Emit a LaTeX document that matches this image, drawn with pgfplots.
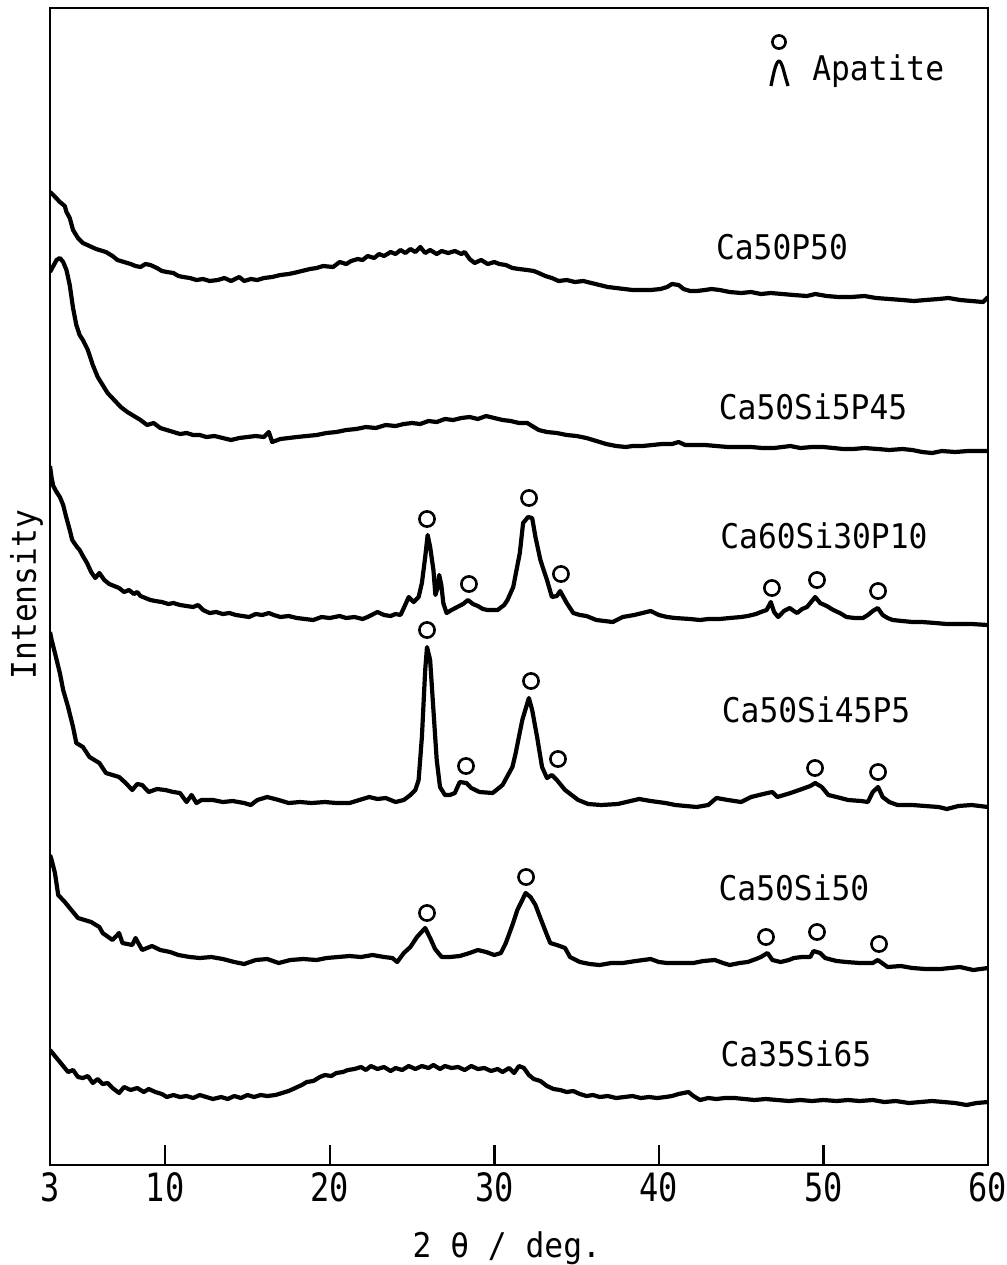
\documentclass[border=0pt]{standalone}
\usepackage{fontspec}
\setmainfont{DejaVu Sans Mono}[FakeStretch=0.92]
\newfontfamily\tickfamily{DejaVu Sans Mono}[FakeStretch=0.82]
\usepackage{pgfplots}
\pgfplotsset{compat=1.18}
\newcommand{\lab}{\fontsize{17}{20}\selectfont}
\newcommand{\tlab}{\tickfamily\fontsize{19.5}{22}\selectfont}
\begin{document}
\begin{tikzpicture}
\begin{axis}[name=ax, scale only axis, width=469pt, height=578.5pt,
  xmin=3, xmax=60, ymin=8, ymax=1165, y dir=reverse,
  xtick={3,10,20,30,40,50,60}, ytick=\empty, xtick pos=left,
  tick align=inside, major tick length=10pt,
  axis line style={line width=1.25pt},
  tick style={line width=1.2pt, black},
  /pgf/number format/assume math mode=true,
  ticklabel style={font=\tlab},
  xlabel={2 θ / deg.}, xlabel style={font=\lab, at={(axis description cs:0.487,0)}, anchor=north, yshift=-30pt},
  ylabel={Intensity}, ylabel style={font=\lab, at={(axis description cs:-0.007,0.493)}, anchor=south, inner sep=0pt},
  cycle list={{black, mark=none}},
  every axis plot/.append style={line width=2.1pt, line join=round},
]
% Ca50P50
\addplot coordinates {(3.0,192)(3.2,195)(3.6,202)(3.9,206)(4.0,212)(4.2,218)(4.4,230)(4.7,238)(5.0,243)(5.4,246)(5.8,249)(6.0,250)(6.4,252)(6.8,256)(7.1,260)(7.5,262)(7.9,264)(8.2,266)(8.5,267)(8.8,264)(9.1,265)(9.5,268)(9.8,271)(10.1,272)(10.5,273)(10.8,276)(11.1,277)(11.5,278)(11.9,280)(12.3,279)(12.7,281)(13.2,280)(13.6,278)(14.0,281)(14.5,277)(14.8,281)(15.2,279)(15.6,280)(16.0,278)(16.5,277)(17.0,275)(17.5,274)(17.8,273)(18.3,271)(18.8,269)(19.2,268)(19.6,266)(20.2,267)(20.6,262)(21.0,264)(21.3,261)(21.7,259)(22.0,260)(22.3,256)(22.7,258)(23.0,254)(23.3,256)(23.7,252)(24.0,254)(24.3,250)(24.6,253)(24.9,249)(25.2,252)(25.5,247)(25.8,253)(26.1,250)(26.5,254)(26.8,251)(27.2,253)(27.6,251)(28.0,254)(28.2,252)(28.5,259)(28.8,263)(29.2,260)(29.6,264)(30.0,262)(30.3,264)(30.7,265)(31.1,268)(31.5,269)(32.0,270)(32.4,271)(32.7,273)(33.1,276)(33.5,278)(33.9,281)(34.4,280)(34.9,282)(35.4,281)(35.9,283)(36.4,285)(36.9,287)(37.4,288)(37.9,289)(38.4,290)(39.0,290)(39.5,290)(40.1,289)(40.5,287)(40.8,284)(41.2,285)(41.5,289)(41.9,291)(42.3,291)(42.8,290)(43.2,289)(43.7,290)(44.3,292)(45.0,293)(45.6,292)(46.2,294)(46.8,293)(47.5,294)(48.2,295)(49.0,296)(49.5,294)(50.2,296)(50.9,297)(51.7,297)(52.5,296)(53.2,298)(54.0,299)(54.8,300)(55.5,301)(56.2,300)(57.0,299)(57.6,298)(58.3,300)(59.0,301)(59.7,302)(60.0,297)};
% Ca50Si5P45
\addplot coordinates {(3.0,272)(3.2,266)(3.4,260)(3.6,258)(3.8,262)(4.0,270)(4.2,285)(4.4,308)(4.6,325)(4.8,335)(5.0,340)(5.3,350)(5.6,365)(5.9,377)(6.2,385)(6.5,393)(6.9,400)(7.3,407)(7.7,412)(8.1,416)(8.5,420)(8.9,425)(9.3,423)(9.7,428)(10.1,430)(10.5,432)(10.9,434)(11.3,433)(11.7,435)(12.1,435)(12.5,437)(13.0,436)(13.5,438)(14.0,440)(14.5,438)(15.0,437)(15.5,436)(16.0,437)(16.3,432)(16.5,442)(17.0,439)(17.5,438)(18.0,437)(18.6,436)(19.2,435)(19.8,433)(20.4,432)(21.0,430)(21.6,429)(22.2,427)(22.8,428)(23.4,425)(24.0,426)(24.5,424)(25.0,423)(25.5,424)(26.0,421)(26.5,422)(27.0,419)(27.5,420)(28.0,418)(28.5,417)(29.0,419)(29.5,416)(30.0,418)(30.5,420)(31.0,421)(31.5,423)(32.0,423)(32.4,427)(32.7,430)(33.2,432)(33.8,433)(34.4,435)(35.0,436)(35.6,438)(36.2,441)(36.8,444)(37.4,446)(38.0,447)(38.4,446)(39.0,446)(39.6,445)(40.2,444)(40.8,444)(41.2,442)(41.6,445)(42.2,445)(42.8,445)(43.5,446)(44.2,447)(45.0,447)(45.6,447)(46.3,448)(47.0,448)(47.5,447)(48.0,446)(48.6,448)(49.3,447)(50.0,447)(50.6,448)(51.2,449)(51.8,449)(52.5,448)(53.3,449)(54.0,450)(54.8,449)(55.4,450)(56.0,452)(56.6,453)(57.2,451)(58.0,452)(58.8,451)(59.5,451)(60.0,451)};
% Ca60Si30P10
\addplot coordinates {(3.0,466)(3.1,478)(3.2,486)(3.4,492)(3.6,497)(3.8,505)(4.0,518)(4.2,530)(4.35,540)(4.6,546)(4.8,550)(5.0,556)(5.25,563)(5.5,572)(5.75,578)(6.0,573)(6.3,580)(6.6,584)(6.9,586)(7.2,588)(7.5,592)(7.8,590)(8.1,594)(8.3,592)(8.5,596)(8.8,598)(9.1,600)(9.4,601)(9.8,602)(10.2,604)(10.5,603)(10.9,605)(11.3,606)(11.7,607)(12.0,605)(12.3,610)(12.7,613)(13.1,612)(13.5,614)(13.9,613)(14.3,615)(14.7,616)(15.1,617)(15.5,614)(15.9,615)(16.3,613)(16.6,615)(17.0,617)(17.5,616)(18.0,618)(18.5,619)(19.0,620)(19.5,617)(20.0,618)(20.6,616)(21.0,618)(21.5,617)(22.0,619)(22.3,617)(22.9,612)(23.3,615)(23.7,616)(24.0,614)(24.3,615)(24.5,608)(24.8,597)(25.1,602)(25.4,597)(25.6,583)(25.8,557)(25.95,535)(26.1,547)(26.3,570)(26.42,595)(26.55,588)(26.65,575)(26.78,585)(26.9,603)(27.1,613)(27.4,610)(27.75,607)(28.1,604)(28.4,600)(28.7,604)(29.0,606)(29.3,609)(29.6,610)(30.2,610)(30.6,605)(30.8,600)(31.15,587)(31.55,553)(31.75,523)(32.05,517)(32.3,518)(32.5,537)(32.8,560)(33.2,580)(33.5,597)(33.8,596)(34.0,591)(34.4,603)(34.8,613)(35.2,615)(35.6,616)(36.2,620)(36.7,621)(37.2,622)(37.8,617)(38.5,615)(39.0,613)(39.5,611)(40.0,615)(40.5,617)(41.0,618)(41.9,619)(42.5,620)(43.0,619)(43.7,619)(44.3,618)(45.0,617)(45.4,616)(45.9,614)(46.2,612)(46.55,610)(46.8,602)(47.0,612)(47.25,617)(47.6,611)(47.95,608)(48.2,611)(48.4,613)(48.7,609)(49.0,607)(49.3,601)(49.5,597)(49.8,603)(50.2,606)(50.6,610)(51.0,613)(51.4,617)(51.9,618)(52.4,618)(52.7,615)(53.0,611)(53.3,608)(53.6,615)(53.9,618)(54.2,620)(54.8,621)(55.4,622)(56.0,622)(56.8,623)(57.5,624)(58.3,624)(59.0,624)(60.0,625)};
% Ca50Si45P5
\addplot coordinates {(3.0,632)(3.1,640)(3.3,653)(3.6,673)(3.8,690)(4.1,707)(4.4,727)(4.6,743)(5.0,747)(5.4,757)(6.0,763)(6.4,773)(7.2,777)(7.6,783)(8.0,790)(8.3,784)(8.6,785)(9.0,792)(9.5,789)(10.0,790)(10.5,792)(10.9,793)(11.3,802)(11.6,795)(11.9,803)(12.2,800)(12.9,800)(13.5,802)(14.1,801)(14.8,803)(15.2,805)(15.6,800)(16.2,797)(16.9,800)(17.5,803)(18.2,802)(18.9,803)(19.7,802)(20.4,803)(21.2,803)(21.8,800)(22.4,797)(22.9,799)(23.4,798)(24.0,802)(24.5,800)(24.9,795)(25.2,790)(25.4,780)(25.6,737)(25.8,670)(25.91,647)(26.1,660)(26.3,710)(26.5,760)(26.7,787)(27.0,795)(27.3,795)(27.6,793)(27.9,782)(28.3,783)(28.6,788)(29.1,792)(29.9,793)(30.5,785)(31.1,767)(31.3,753)(31.7,720)(32.1,698)(32.3,710)(32.6,737)(32.9,767)(33.2,778)(33.5,775)(33.8,780)(34.3,790)(35.1,800)(35.7,804)(36.5,805)(37.5,804)(38.8,799)(39.5,801)(40.4,803)(41.0,805)(42.3,807)(43.0,805)(43.5,798)(44.2,800)(45.0,802)(45.6,797)(46.1,795)(46.6,793)(46.9,792)(47.2,797)(47.6,795)(48.0,793)(48.7,789)(49.2,786)(49.5,783)(49.9,787)(50.3,795)(50.8,797)(51.5,800)(52.3,801)(52.7,802)(53.0,792)(53.32,787)(53.6,797)(54.0,802)(54.5,805)(55.4,805)(56.2,806)(57.0,807)(57.5,809)(58.2,806)(59.0,805)(60.0,807)};
% Ca50Si50
\addplot coordinates {(3.0,855)(3.1,860)(3.3,873)(3.5,895)(3.9,902)(4.4,912)(4.7,918)(5.5,922)(6.0,927)(6.2,933)(6.8,940)(7.2,933)(7.4,943)(8.0,945)(8.2,938)(8.6,950)(9.2,946)(9.7,950)(10.3,952)(10.8,955)(11.5,957)(12.1,958)(12.8,957)(13.5,959)(14.2,962)(14.8,964)(15.5,960)(16.2,959)(16.9,963)(17.6,960)(18.4,959)(19.2,960)(19.8,958)(20.5,957)(21.2,956)(21.9,957)(22.6,955)(23.3,957)(23.8,958)(24.1,962)(24.5,953)(24.9,947)(25.3,937)(25.8,928)(26.1,938)(26.4,949)(26.8,957)(27.3,957)(27.9,956)(28.5,953)(29.0,950)(29.5,952)(30.0,955)(30.4,953)(30.7,943)(31.1,925)(31.4,910)(31.7,900)(31.9,893)(32.2,897)(32.5,905)(32.8,918)(33.2,935)(33.4,943)(33.8,945)(34.3,948)(34.6,957)(35.2,962)(35.8,964)(36.4,965)(37.1,963)(37.8,963)(38.6,961)(39.5,959)(40.0,962)(40.5,963)(41.2,963)(42.1,963)(42.7,961)(43.4,960)(43.9,963)(44.3,965)(44.9,963)(45.4,962)(45.9,959)(46.2,957)(46.6,953)(46.9,960)(47.4,962)(47.9,960)(48.2,958)(48.7,957)(49.2,957)(49.4,951)(49.8,953)(50.1,958)(50.8,961)(51.4,962)(52.2,963)(53.0,963)(53.3,960)(53.9,967)(54.7,966)(55.4,968)(56.2,969)(57.1,969)(57.7,968)(58.3,967)(59.1,970)(60.0,968)};
% Ca35Si65
\addplot coordinates {(3.0,1050)(3.2,1054)(3.5,1060)(3.8,1066)(4.1,1072)(4.4,1070)(4.7,1077)(5.0,1078)(5.3,1076)(5.6,1083)(5.9,1079)(6.2,1084)(6.5,1083)(6.8,1088)(7.2,1093)(7.5,1087)(7.9,1090)(8.3,1088)(8.7,1092)(9.0,1089)(9.4,1092)(9.8,1094)(10.1,1097)(10.5,1095)(10.9,1097)(11.3,1096)(11.7,1098)(12.1,1095)(12.5,1097)(12.9,1099)(13.4,1097)(13.8,1099)(14.2,1096)(14.6,1098)(15.0,1095)(15.4,1097)(15.8,1095)(16.2,1096)(16.7,1095)(17.1,1093)(17.5,1091)(17.9,1088)(18.3,1085)(18.6,1082)(19.0,1081)(19.4,1077)(19.7,1075)(20.1,1076)(20.4,1073)(20.8,1072)(21.1,1070)(21.5,1069)(21.9,1067)(22.2,1070)(22.5,1066)(22.9,1069)(23.3,1067)(23.7,1071)(24.0,1068)(24.4,1070)(24.8,1066)(25.2,1069)(25.6,1066)(26.0,1068)(26.3,1065)(26.7,1069)(27.0,1066)(27.4,1068)(27.8,1067)(28.2,1070)(28.6,1066)(29.0,1069)(29.4,1068)(29.8,1071)(30.2,1069)(30.5,1072)(30.9,1068)(31.2,1073)(31.5,1066)(31.8,1068)(32.1,1075)(32.4,1079)(32.8,1081)(33.2,1086)(33.6,1089)(34.0,1090)(34.4,1092)(34.8,1091)(35.2,1094)(35.6,1096)(36.0,1095)(36.4,1097)(36.9,1096)(37.4,1098)(37.9,1097)(38.4,1096)(38.9,1098)(39.4,1097)(39.9,1098)(40.4,1097)(40.8,1096)(41.2,1094)(41.5,1093)(41.8,1092)(42.1,1096)(42.5,1100)(43.0,1098)(43.5,1099)(44.0,1098)(44.6,1098)(45.2,1099)(45.8,1100)(46.5,1099)(47.2,1100)(47.9,1101)(48.6,1100)(49.3,1101)(50.0,1100)(50.8,1101)(51.5,1100)(52.2,1101)(53.0,1100)(53.7,1102)(54.4,1101)(55.2,1103)(55.9,1102)(56.6,1101)(57.3,1102)(58.0,1103)(58.7,1105)(59.3,1103)(60.0,1102)};
% apatite markers
\addplot[only marks, mark=o, mark size=3.8pt, mark options={line width=1.3pt}] coordinates {
 (25.91,519)(28.46,584)(32.11,498)(34.05,574)(46.87,588)(49.61,580)(53.32,591)
 (25.91,630)(28.28,766)(32.23,681)(33.87,759)(49.49,768)(53.32,772)
 (25.91,913)(31.93,877)(46.51,937)(49.61,932)(53.38,944)};
% legend symbol
\addplot[only marks, mark=o, mark size=3.3pt, mark options={line width=1.3pt}] coordinates {(47.30,42)};
\addplot[line width=1.6pt, smooth] coordinates {(46.81,86)(46.94,76)(47.06,68)(47.18,63)(47.30,61)(47.42,63)(47.54,68)(47.67,76)(47.85,86)};
\node[font=\lab, anchor=base west, inner sep=0pt] at (axis cs:49.30,80) {Apatite};
\node[font=\lab, anchor=base, inner sep=0pt] at (axis cs:47.48,259) {Ca50P50};
\node[font=\lab, anchor=base, inner sep=0pt] at (axis cs:49.37,419) {Ca50Si5P45};
\node[font=\lab, anchor=base, inner sep=0pt] at (axis cs:50.03,548) {Ca60Si30P10};
\node[font=\lab, anchor=base, inner sep=0pt] at (axis cs:49.55,722) {Ca50Si45P5};
\node[font=\lab, anchor=base, inner sep=0pt] at (axis cs:48.21,900) {Ca50Si50};
\node[font=\lab, anchor=base, inner sep=0pt] at (axis cs:48.33,1066) {Ca35Si65};
\end{axis}
\pgfresetboundingbox
\path ([shift={(-25pt,-50pt)}]ax.south west) rectangle ([shift={(9.5pt,4pt)}]ax.north east);
\end{tikzpicture}
\end{document}
